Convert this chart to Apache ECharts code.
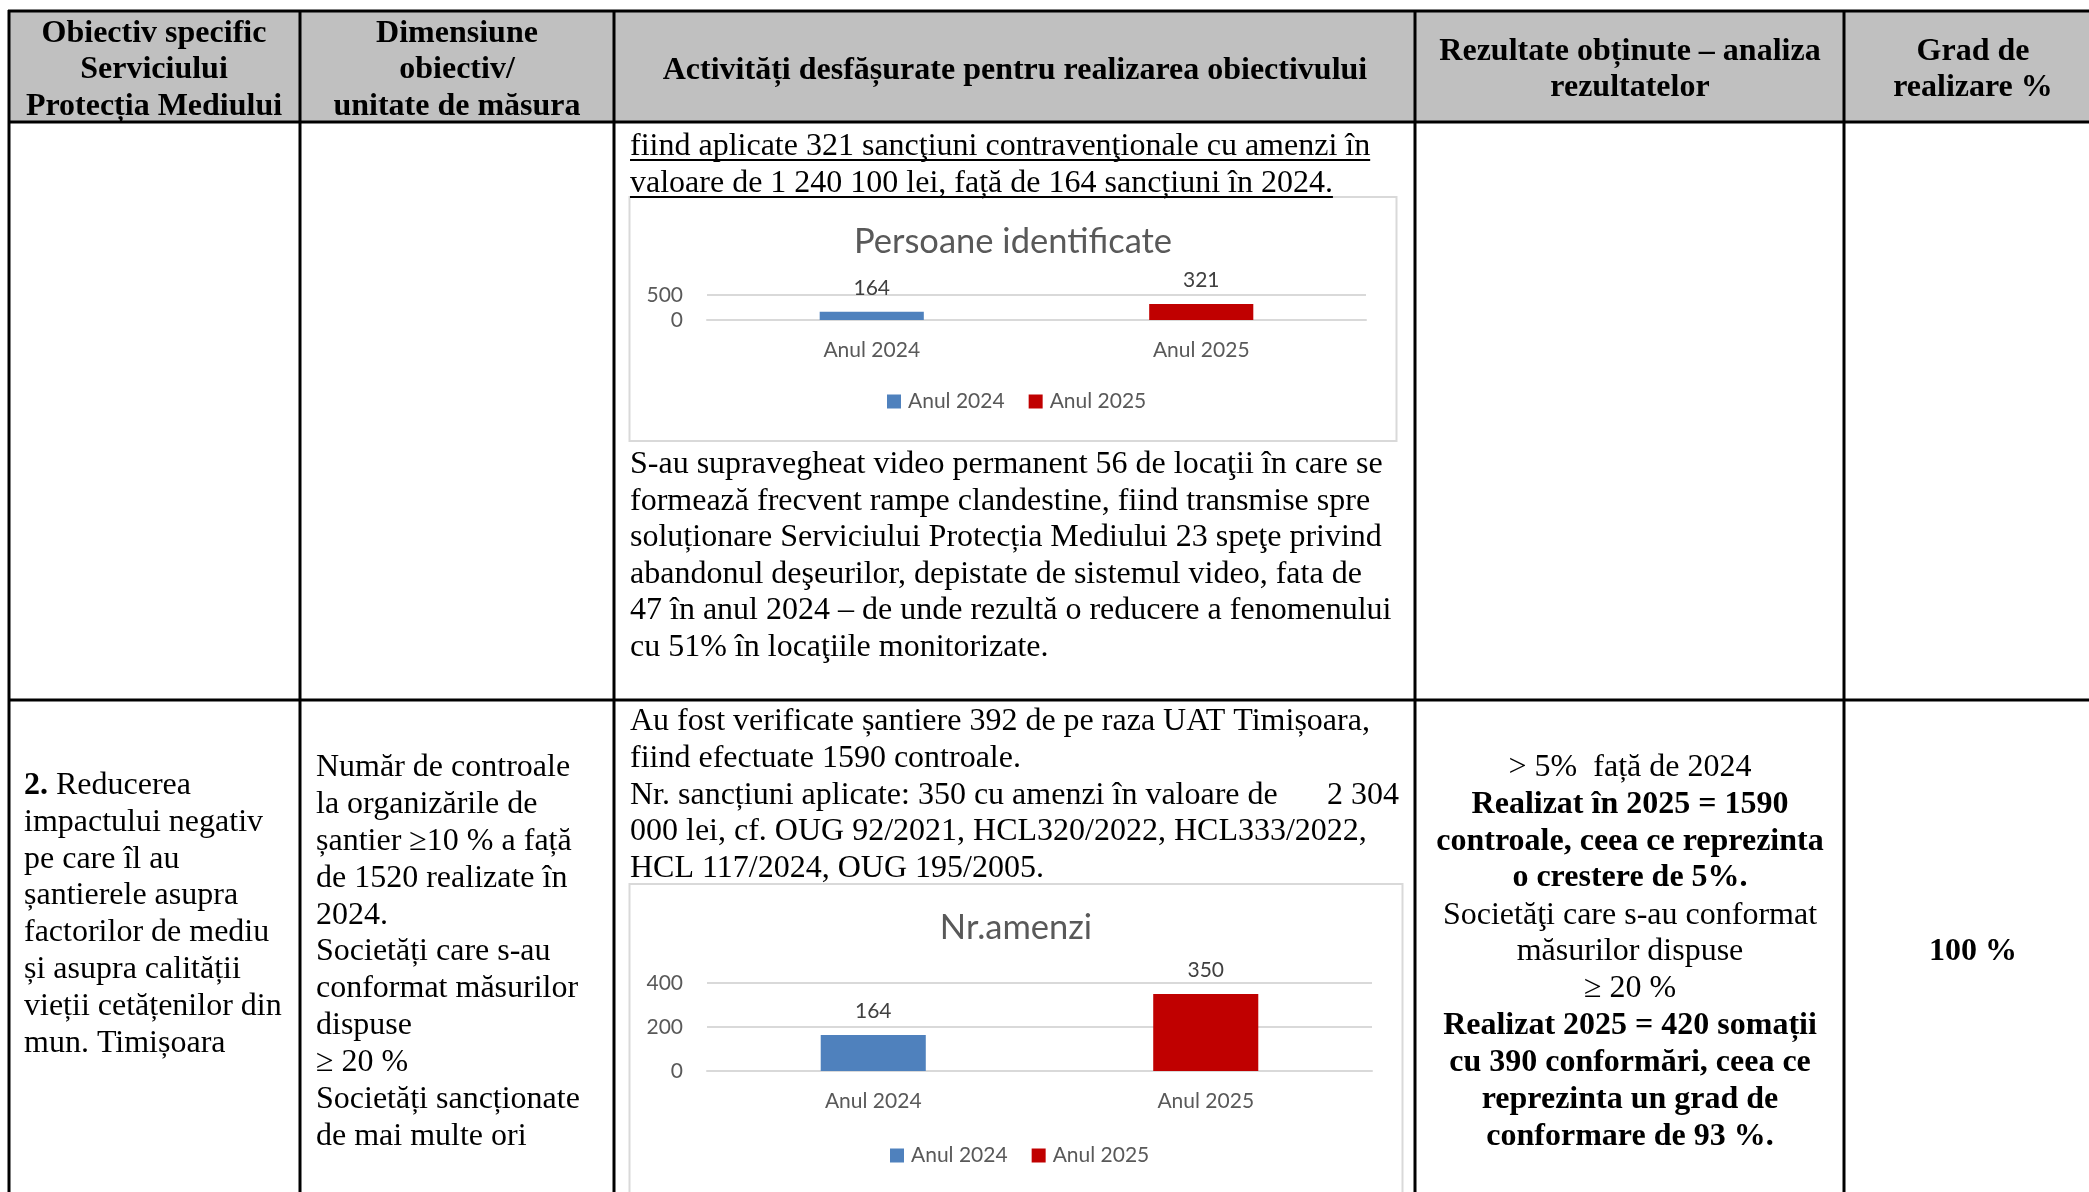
<!DOCTYPE html>
<html>
<head>
<meta charset="utf-8">
<script src="https://cdn.jsdelivr.net/npm/echarts@6/dist/echarts.min.js"></script>
<style>html,body{margin:0;padding:0;background:#fff;}#c{width:2089px;height:1192px;}</style>
</head>
<body>
<div id="c"></div>
<script>
// ---- data ----
const categories = ['Anul 2024', 'Anul 2025'];
const seriesNames = ['Anul 2024', 'Anul 2025'];
const persoaneIdentificate = [164, 321];
const nrAmenzi = [164, 350];
const chart1Title = 'Persoane identificate';
const chart2Title = 'Nr.amenzi';
const colors = ['#4f81bd', '#c00000'];

const headerCol1 = ['Obiectiv specific', 'Serviciului', 'Protecția Mediului'];
const headerCol2 = ['Dimensiune', 'obiectiv/', 'unitate de măsura'];
const headerCol3 = ['Activități desfășurate pentru realizarea obiectivului'];
const headerCol4 = ['Rezultate obținute – analiza', 'rezultatelor'];
const headerCol5 = ['Grad de', 'realizare %'];

const row1Underlined = ['fiind aplicate 321 sancţiuni contravenţionale cu amenzi în',
  'valoare de 1 240 100 lei, față de 164 sancțiuni în 2024.'];
const row1After = ['S-au supravegheat video permanent 56 de locaţii în care se',
  'formează frecvent rampe clandestine, fiind transmise spre',
  'soluționare Serviciului Protecția Mediului 23 speţe privind',
  'abandonul deşeurilor, depistate de sistemul video, fata de',
  '47 în anul 2024 – de unde rezultă o reducere a fenomenului',
  'cu 51% în locaţiile monitorizate.'];
const row2Col1 = ['{b|2.} Reducerea', 'impactului negativ', 'pe care îl au', 'șantierele asupra',
  'factorilor de mediu', 'și asupra calității', 'vieții cetățenilor din', 'mun. Timișoara'];
const row2Col2 = ['Număr de controale', 'la organizările de', 'șantier ≥10 % a față', 'de 1520 realizate în',
  '2024.', 'Societăți care s-au', 'conformat măsurilor', 'dispuse', '≥ 20 %',
  'Societăți sancționate', 'de mai multe ori'];
const row2Col3 = ['Au fost verificate șantiere 392 de pe raza UAT Timișoara,',
  'fiind efectuate 1590 controale.',
  'Nr. sancțiuni aplicate: 350 cu amenzi în valoare de',
  '000 lei, cf. OUG 92/2021, HCL320/2022, HCL333/2022,',
  'HCL 117/2024, OUG 195/2005.'];
const row2Col3Right = '2 304';
const row2Col4 = ['> 5%  față de 2024', 'Realizat în 2025 = 1590', 'controale, ceea ce reprezinta',
  'o crestere de 5%.', 'Societăţi care s-au conformat', 'măsurilor dispuse', '≥ 20 %',
  'Realizat 2025 = 420 somații', 'cu 390 conformări, ceea ce', 'reprezinta un grad de', 'conformare de 93 %.'];
const row2Col4Bold = [false, true, true, true, false, false, false, true, true, true, true];
const row2Col5 = '100 %';

// ---- styles ----
const SERIF = '"Liberation Serif", "Times New Roman", serif';
const SANS = 'Lato, Calibri, sans-serif';
const F = '32px ' + SERIF;
const FB = 'bold 32px ' + SERIF;
const DY = 2.5; // vertical optical offset for serif text

const g = [];
function txt(s, x, y, font, align, extra) {
  const st = Object.assign({ text: s, font: font, fill: '#000', align: align || 'left', verticalAlign: 'middle' }, extra || {});
  g.push({ type: 'text', x: x, y: y, z: 10, style: st });
}
function lines(arr, x, y0, step, font, align, extraFn) {
  arr.forEach((s, i) => txt(s, x, y0 + DY + i * step, typeof font === 'function' ? font(i) : font, align, extraFn ? extraFn(i) : null));
}
function hline(x1, x2, y, color, w) { g.push({ type: 'line', z: 5, shape: { x1, y1: y, x2, y2: y }, style: { stroke: color, lineWidth: w } }); }
function vline(x, y1, y2, color, w) { g.push({ type: 'line', z: 5, shape: { x1: x, y1, x2: x, y2 }, style: { stroke: color, lineWidth: w } }); }

// header fill
g.push({ type: 'rect', z: -10, shape: { x: 9, y: 11, width: 2080, height: 111 }, style: { fill: '#c0c0c0' } });
// chart boxes (outline only, behind the axes)
g.push({ type: 'rect', z: -10, shape: { x: 629.5, y: 197, width: 767, height: 244 }, style: { fill: 'none', stroke: '#d9d9d9', lineWidth: 2 } });
g.push({ type: 'rect', z: -10, shape: { x: 629.5, y: 884, width: 773, height: 330 }, style: { fill: 'none', stroke: '#d9d9d9', lineWidth: 2 } });

// table lines
const B = '#000';
hline(8, 2089, 11, B, 3);
hline(8, 2089, 122, B, 3);
hline(8, 2089, 700, B, 3);
[9, 300, 614, 1415, 1844].forEach(x => vline(x, 10, 1192, B, 3));

// header text
const HS = 36.6;
lines(headerCol1, 154, 31, HS, FB, 'center');
lines(headerCol2, 457, 31, HS, FB, 'center');
lines(headerCol3, 1015, 68, HS, FB, 'center');
lines(headerCol4, 1630, 49, HS, FB, 'center');
lines(headerCol5, 1973, 49, HS, FB, 'center');

// row 1
const ctx = document.createElement('canvas').getContext('2d');
ctx.font = F;
lines(row1Underlined, 630, 144, 37, F, 'left');
row1Underlined.forEach((s, i) => {
  const w = ctx.measureText(s).width;
  hline(630, 630 + w, 160 + i * 37, '#000', 2);
});
lines(row1After, 630, 462, 36.6, F, 'left');

// row 2
lines(row2Col1, 24, 783, 36.8, F, 'left', () => ({ rich: { b: { font: FB, fill: '#000' } } }));
lines(row2Col2, 316, 765, 36.9, F, 'left');
lines(row2Col3, 630, 719.5, 36.6, F, 'left');
txt(row2Col3Right, 1399, 719.5 + DY + 2 * 36.6, F, 'right');
lines(row2Col4, 1630, 765, 36.9, i => row2Col4Bold[i] ? FB : F, 'center');
txt(row2Col5, 1973, 949 + DY, FB, 'center');

// chart titles
txt(chart1Title, 1013, 242, '34.5px ' + SANS, 'center', { fill: '#595959' });
txt(chart2Title, 1016, 928, '34.5px ' + SANS, 'center', { fill: '#595959' });

function mkSeries(values, axisIdx) {
  return seriesNames.map((name, k) => ({
    name: name,
    type: 'bar',
    xAxisIndex: axisIdx,
    yAxisIndex: axisIdx,
    barWidth: '31.6%',
    barGap: '-100%',
    itemStyle: { color: colors[k] },
    label: { show: true, position: 'top', distance: 13, color: '#404040', fontFamily: SANS, fontSize: 21 },
    data: values.map((v, i) => (i === k ? v : '-'))
  }));
}

const axisLabelX = { color: '#595959', fontFamily: SANS, fontSize: 21, margin: 20 };
const axisLabelY = { color: '#595959', fontFamily: SANS, fontSize: 21, margin: 24 };
const split = { show: true, lineStyle: { color: '#d9d9d9', width: 2 } };

const option = {
  animation: false,
  backgroundColor: '#fff',
  grid: [
    { left: 707, top: 295, width: 659, height: 25, containLabel: false, outerBoundsMode: 'none' },
    { left: 707, top: 983, width: 665, height: 88, containLabel: false, outerBoundsMode: 'none' }
  ],
  xAxis: [0, 1].map(i => ({
    type: 'category', gridIndex: i, data: categories,
    axisLine: { show: true, lineStyle: { color: '#d9d9d9', width: 2 } },
    axisTick: { show: false }, axisLabel: axisLabelX, splitLine: { show: false }
  })),
  yAxis: [
    { type: 'value', gridIndex: 0, min: 0, max: 500, interval: 500, axisLine: { show: false }, axisTick: { show: false }, axisLabel: axisLabelY, splitLine: split },
    { type: 'value', gridIndex: 1, min: 0, max: 400, interval: 200, axisLine: { show: false }, axisTick: { show: false }, axisLabel: axisLabelY, splitLine: split }
  ],
  legend: [
    { left: 887, top: 391, padding: 0, itemWidth: 14, itemHeight: 14, itemGap: 24, icon: 'rect', data: seriesNames,
      textStyle: { color: '#595959', fontFamily: SANS, fontSize: 21, padding: [0, 0, 0, 2] } },
    { left: 890, top: 1145, padding: 0, itemWidth: 14, itemHeight: 14, itemGap: 24, icon: 'rect', data: seriesNames,
      textStyle: { color: '#595959', fontFamily: SANS, fontSize: 21, padding: [0, 0, 0, 2] } }
  ],
  series: mkSeries(persoaneIdentificate, 0).concat(mkSeries(nrAmenzi, 1)),
  graphic: { elements: g }
};

const chart = echarts.init(document.getElementById('c'), null, { renderer: 'canvas' });
chart.setOption(option);
</script>
</body>
</html>
